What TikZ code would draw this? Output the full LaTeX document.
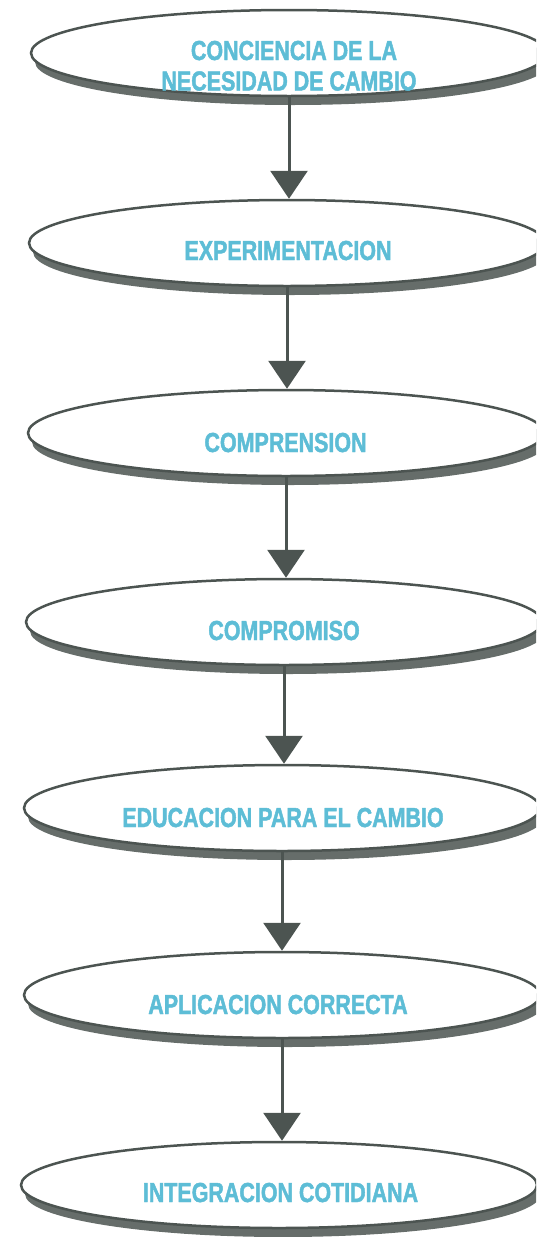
\documentclass[tikz,border=0pt]{standalone}
\usepackage{fontspec}
\newfontfamily\lblfont[UprightFont={* Bold},FakeStretch=0.78,FakeBold=1.6]{Liberation Sans}
\usetikzlibrary{arrows.meta,shapes.geometric,shadows}
\definecolor{linec}{HTML}{4C5451}
\definecolor{shadc}{HTML}{666D6A}
\definecolor{txtc}{HTML}{5DBDD6}
\begin{document}
\begin{tikzpicture}[x=1pt,y=-1pt,
  oval/.style={ellipse, draw=linec, line width=2.5pt, fill=white,
    minimum width=516pt, minimum height=86pt, inner sep=0pt,
    drop shadow={shadow xshift=4pt, shadow yshift=-9pt, fill=shadc, opacity=1}},
  lbl/.style={font=\lblfont\fontsize{27.5}{32}\selectfont, text=txtc, anchor=base, inner sep=0pt},
  flow/.style={draw=linec, line width=3pt, -{Triangle[width=37pt,length=28pt]}}]
\useasboundingbox (0,0) rectangle (536,1237);
\clip (0,0) rectangle (536,1237);
\node[oval] (e1) at (289,53) {};
\node[oval] (e2) at (287,243) {};
\node[oval] (e3) at (286,433) {};
\node[oval] (e4) at (284,622) {};
\node[oval] (e5) at (282,808) {};
\node[oval] (e6) at (282,995) {};
\node[oval] (e7) at (279,1185) {};
\node[lbl] (t1a) at (294,60) {CONCIENCIA DE LA};
\node[lbl] (t1b) at (289,90.5) {NECESIDAD DE CAMBIO};
\node[lbl] (t2) at (288,260) {EXPERIMENTACION};
\node[lbl] (t3) at (285.5,452) {COMPRENSION};
\node[lbl] (t4) at (284,640) {COMPROMISO};
\node[lbl] (t5) at (283,827) {EDUCACION PARA EL CAMBIO};
\node[lbl] (t6) at (278,1014) {APLICACION CORRECTA};
\node[lbl] (t7) at (280.5,1202) {INTEGRACION COTIDIANA};
\draw[flow] (e1.south) -- (e1.south |- e2.north);
\draw[flow] (e2.south) -- (e2.south |- e3.north);
\draw[flow] (e3.south) -- (e3.south |- e4.north);
\draw[flow] (e4.south) -- (e4.south |- e5.north);
\draw[flow] (e5.south) -- (e5.south |- e6.north);
\draw[flow] (e6.south) -- (e6.south |- e7.north);
\end{tikzpicture}
\end{document}
